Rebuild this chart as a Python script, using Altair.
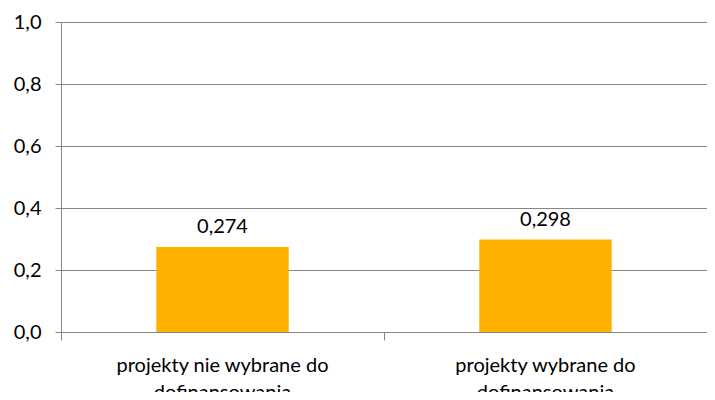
import altair as alt
import pandas as pd

categories = ["projekty nie wybrane do|dofinansowania", "projekty wybrane do|dofinansowania"]
values = [0.274, 0.298]
y_ticks = [0.0, 0.2, 0.4, 0.6, 0.8, 1.0]

df = pd.DataFrame({"cat": categories, "val": values})

FONT = "Lato"
GRAY = "#878787"

x = alt.X(
    "cat:N",
    sort=categories,
    title=None,
    scale=alt.Scale(paddingInner=0, paddingOuter=0),
    axis=alt.Axis(
        bandPosition=0,
        labelAngle=0,
        labelExpr="split(datum.label, '|')",
        labelFont=FONT,
        labelFontSize=20,
        labelColor="black",
        labelLineHeight=27,
        labelPadding=15,
        labelBaseline="top",
        labelLimit=0,
        tickSize=8,
        tickColor=GRAY,
        domainColor=GRAY,
        grid=False,
    ),
)

y = alt.Y(
    "val:Q",
    title=None,
    scale=alt.Scale(domain=[0, 1], nice=False),
    axis=alt.Axis(
        values=y_ticks,
        labelExpr="replace(format(datum.value, '.1f'), '.', ',')",
        labelFont=FONT,
        labelFontSize=20,
        labelColor="black",
        labelPadding=14,
        tickSize=6,
        tickColor=GRAY,
        domainColor=GRAY,
        gridColor=GRAY,
        gridWidth=1,
    ),
)

bars = alt.Chart(df).mark_bar(color="#FFB000", width=alt.RelativeBandSize(0.41)).encode(x=x, y=y)

text = alt.Chart(df).transform_calculate(
    lbl="replace(format(datum.val, '.3f'), '.', ',')"
).mark_text(baseline="bottom", dy=-10, font=FONT, fontSize=20, color="black").encode(
    x=alt.X("cat:N", sort=categories),
    y="val:Q",
    text="lbl:N",
)

chart = (
    alt.layer(bars, text)
    .properties(
        width=646,
        height=310,
        autosize=alt.AutoSizeParams(type="none"),
        padding={"left": 53, "top": 14, "right": 0, "bottom": 60},
    )
    .configure_view(stroke=None)
)

chart.save("out.html", embed_options={"renderer": "svg", "actions": False})
